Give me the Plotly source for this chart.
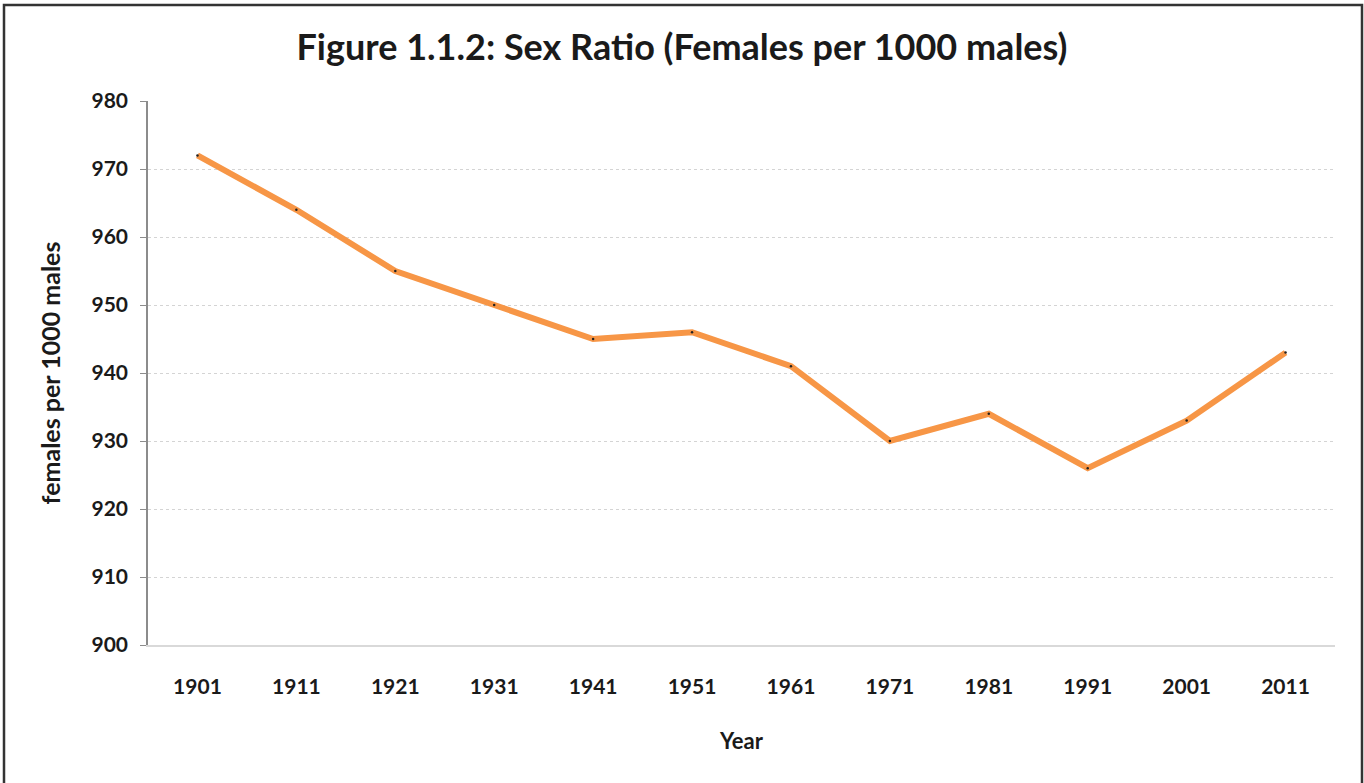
import plotly.graph_objects as go

years = ["1901", "1911", "1921", "1931", "1941", "1951", "1961", "1971", "1981", "1991", "2001", "2011"]
sex_ratio = [972, 964, 955, 950, 945, 946, 941, 930, 934, 926, 933, 943]
y_ticks = [900, 910, 920, 930, 940, 950, 960, 970, 980]

FONT = "Lato"
W, H = 1364, 783
L, R, T, B = 148, 29, 101, 138
pw, ph = W - L - R, H - T - B

def px_x(px):
    return (px - L) / pw

def px_y(py):
    return (H - B - py) / ph

fig = go.Figure()
fig.add_trace(go.Scatter(
    x=years, y=sex_ratio, mode="lines+markers",
    line=dict(color="#F79646", width=6),
    marker=dict(size=2.5, color="#222222"),
    hoverinfo="x+y", showlegend=False,
))

fig.update_layout(
    width=W, height=H,
    margin=dict(l=L, r=R, t=T, b=B, autoexpand=False),
    paper_bgcolor="white", plot_bgcolor="white",
    font=dict(family=FONT, color="#1a1a1a"),
    title=dict(text="<b>Figure 1.1.2: Sex Ratio (Females per 1000 males)</b>",
               x=px_x(682), xref="paper", xanchor="center",
               y=1 - 47 / H, yanchor="middle", yref="container",
               font=dict(size=36, family=FONT, color="#1a1a1a")),
    xaxis=dict(
        type="category", range=[-0.5, 11.5],
        showgrid=False, showline=True, linecolor="#d9d9d9", linewidth=1.5,
        ticks="", tickfont=dict(size=21, family=FONT, color="#1a1a1a"),
        ticklabelstandoff=22,
        title=dict(text="<b>Year</b>", font=dict(size=22, family=FONT, color="#1a1a1a"),
                   standoff=37),
        fixedrange=True,
    ),
    yaxis=dict(
        range=[900, 980], tickvals=y_ticks,
        ticktext=[f"<b>{v}</b>" for v in y_ticks],
        showgrid=True, gridcolor="#d4d4d4", griddash="dot", gridwidth=1,
        showline=True, linecolor="#8c8c8c", linewidth=1.5,
        ticks="outside", ticklen=6, tickcolor="#8c8c8c",
        tickfont=dict(size=21, family=FONT, color="#1a1a1a"),
        ticklabelstandoff=8,
        zeroline=False,
        title=dict(text="<b>females per 1000 males</b>",
                   font=dict(size=25, family=FONT, color="#1a1a1a"), standoff=24),
        fixedrange=True,
    ),
    shapes=[dict(type="rect", xref="paper", yref="paper",
                 x0=px_x(4), x1=px_x(1362), y0=px_y(5), y1=px_y(790),
                 line=dict(color="#333333", width=2.5), fillcolor="rgba(0,0,0,0)",
                 layer="above")],
)
fig.update_xaxes(tickvals=years, ticktext=[f"<b>{y}</b>" for y in years])

fig.write_html("out.html", config={"displayModeBar": False},
               post_script="document.body.style.margin='0';document.body.style.overflow='hidden';")
